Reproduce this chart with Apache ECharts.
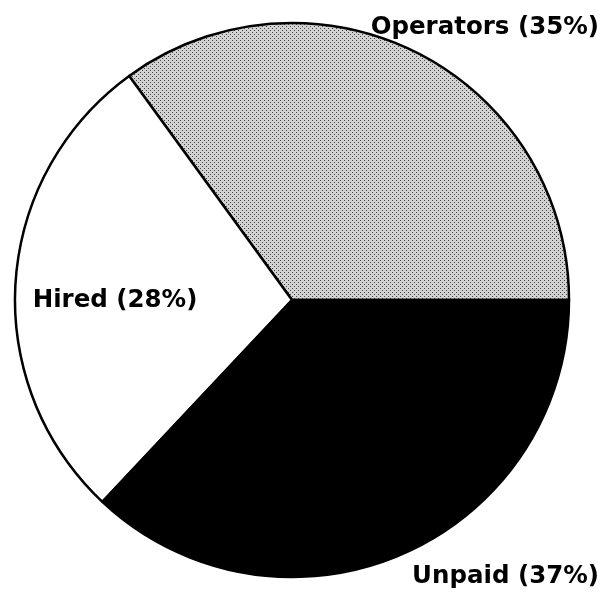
<!DOCTYPE html>
<html>
<head>
<meta charset="utf-8">
<script src="https://cdn.jsdelivr.net/npm/echarts@6/dist/echarts.min.js"></script>
<style>
  html, body { margin: 0; padding: 0; background: #fff; }
  #chart { width: 604px; height: 595px; }
</style>
</head>
<body>
<div id="chart"></div>
<script>
// slice data
const categories = ['Operators', 'Hired', 'Unpaid'];
const shares = [35, 28, 37];

// dotted grey texture for the Operators slice
function dotPattern() {
    const c = document.createElement('canvas');
    c.width = 4;
    c.height = 4;
    const ctx = c.getContext('2d');
    ctx.fillStyle = '#d2d2d2';
    ctx.fillRect(0, 0, 4, 4);
    ctx.fillStyle = '#444';
    ctx.fillRect(0, 0, 1, 1);
    ctx.fillRect(2, 2, 1, 1);
    return c;
}

const fills = [
    {image: dotPattern(), repeat: 'repeat'},
    '#ffffff',
    '#000000'
];

// where each label sits on the page
const labelSpots = [
    {x: 599, y: 28, align: 'right'},
    {x: 115, y: 301, align: 'center'},
    {x: 599, y: 577, align: 'right'}
];

let myChart = echarts.init(document.getElementById('chart'));

let option = {
    animation: false,
    series: [
        {
            type: 'pie',
            center: [292, 300],
            radius: 277,
            startAngle: 0,
            clockwise: false,
            label: {
                show: true,
                position: 'inside',
                overflow: 'none',
                formatter: p => p.name + ' (' + p.value + '%)',
                color: '#000',
                fontFamily: '"DejaVu Sans", sans-serif',
                fontWeight: 'bold',
                fontSize: 24.5
            },
            labelLine: {show: false},
            labelLayout: function (params) {
                const s = labelSpots[params.dataIndex];
                return {x: s.x, y: s.y, align: s.align, verticalAlign: 'middle', hideOverlap: false};
            },
            itemStyle: {
                borderColor: '#000',
                borderWidth: 2.5
            },
            emphasis: {disabled: true},
            data: categories.map((name, i) => ({
                name: name,
                value: shares[i],
                itemStyle: {color: fills[i]}
            }))
        }
    ]
};

myChart.setOption(option);
</script>
</body>
</html>
